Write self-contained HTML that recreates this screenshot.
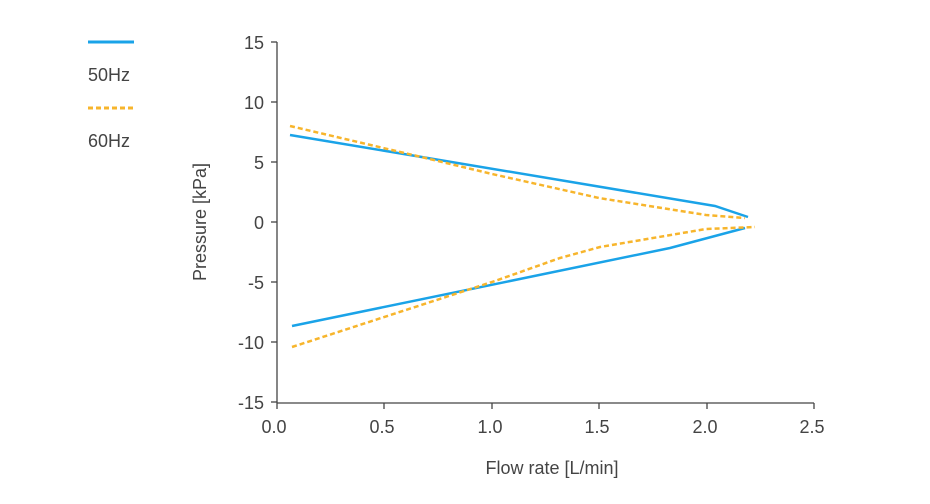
<!DOCTYPE html><html><head><style>body{margin:0;background:#fff}svg{display:block}text{font-family:"Liberation Sans",sans-serif;fill:#444}</style></head><body>
<svg width="930" height="504" viewBox="0 0 930 504">
<line x1="88" y1="42" x2="134" y2="42" stroke="#1aa3e8" stroke-width="3"/>
<text x="88" y="81" font-size="18">50Hz</text>
<line x1="88" y1="108" x2="134" y2="108" stroke="#f7b52c" stroke-width="3" stroke-dasharray="5,3"/>
<text x="88" y="147" font-size="18">60Hz</text>
<g stroke="#444" stroke-width="1.3" fill="none">
<line x1="277" y1="42" x2="277" y2="403"/>
<line x1="277" y1="403" x2="814" y2="403"/>
<line x1="271" y1="42" x2="277" y2="42"/><line x1="271" y1="102" x2="277" y2="102"/><line x1="271" y1="162" x2="277" y2="162"/><line x1="271" y1="222" x2="277" y2="222"/><line x1="271" y1="282" x2="277" y2="282"/><line x1="271" y1="342" x2="277" y2="342"/><line x1="271" y1="402" x2="277" y2="402"/>
<line x1="277" y1="403" x2="277" y2="409"/><line x1="384" y1="403" x2="384" y2="409"/><line x1="492" y1="403" x2="492" y2="409"/><line x1="599" y1="403" x2="599" y2="409"/><line x1="707" y1="403" x2="707" y2="409"/><line x1="814" y1="403" x2="814" y2="409"/>
</g>
<g font-size="18" text-anchor="end">
<text x="264" y="49">15</text><text x="264" y="109">10</text><text x="264" y="169">5</text><text x="264" y="229">0</text><text x="264" y="289">-5</text><text x="264" y="349">-10</text><text x="264" y="409">-15</text>
</g>
<g font-size="18" text-anchor="middle">
<text x="274" y="433">0.0</text><text x="382" y="433">0.5</text><text x="490" y="433">1.0</text><text x="597" y="433">1.5</text><text x="705" y="433">2.0</text><text x="812" y="433">2.5</text>
<text x="552" y="474">Flow rate [L/min]</text>
<text transform="translate(206,222) rotate(-90)">Pressure [kPa]</text>
</g>
<g fill="none" stroke-width="2.5">
<polyline stroke="#1aa3e8" points="290,135 715,206 748,217"/>
<polyline stroke="#1aa3e8" points="292,326 670,248 745,228"/>
<polyline stroke="#f7b52c" stroke-dasharray="5,3" points="290,126 413,155 492,174 599,198 706,215 745,218"/>
<polyline stroke="#f7b52c" stroke-dasharray="5,3" points="292,347 495,281 560,258 600,247 706,229 755,227"/>
</g>
</svg></body></html>
